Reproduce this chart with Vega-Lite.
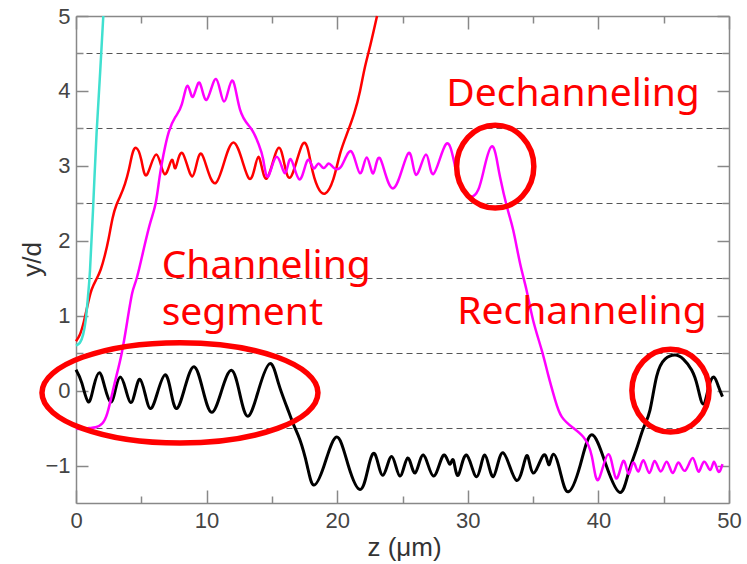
{
  "$schema": "https://vega.github.io/schema/vega-lite/v6.json",
  "width": 653,
  "height": 487,
  "autosize": {"type": "none"},
  "padding": {"left": 76, "top": 16, "right": 18, "bottom": 61},
  "background": "white",
  "config": {
    "view": {"stroke": null},
    "axis": {
      "grid": false,
      "domainColor": "#888888",
      "domainWidth": 1.5,
      "tickColor": "#888888",
      "tickWidth": 1.5,
      "labelFont": "Liberation Sans",
      "labelFontSize": 22,
      "labelColor": "#444444",
      "labelFlush": false,
      "labelOverlap": false,
      "titleFont": "Liberation Sans",
      "titleFontSize": 26,
      "titleFontWeight": "normal",
      "titleColor": "#333333"
    }
  },
  "datasets": {
    "black": [
      {"z":0,"y":0.28},{"z":0.45,"y":0.1},{"z":0.94,"y":-0.15},{"z":1.35,"y":0.05},{"z":1.79,"y":0.24},{"z":2.2,"y":0.05},{"z":2.65,"y":-0.15},{"z":3.0,"y":0.0},{"z":3.37,"y":0.18},{"z":3.8,"y":0.02},{"z":4.19,"y":-0.16},{"z":4.55,"y":0.0},{"z":4.9,"y":0.15},{"z":5.3,"y":-0.05},{"z":5.72,"y":-0.24},{"z":6.25,"y":-0.02},{"z":6.81,"y":0.21},{"z":7.25,"y":0.0},{"z":7.71,"y":-0.24},{"z":8.35,"y":0.05},{"z":9.04,"y":0.32},{"z":9.7,"y":0.02},{"z":10.39,"y":-0.29},{"z":11.15,"y":0.0},{"z":11.92,"y":0.27},{"z":12.55,"y":-0.05},{"z":13.19,"y":-0.34},{"z":14.0,"y":0.02},{"z":14.85,"y":0.36},{"z":15.5,"y":0.1},{"z":16.13,"y":-0.21},{"z":16.65,"y":-0.45},{"z":17.15,"y":-0.66},{"z":17.7,"y":-1.0},{"z":18.2,"y":-1.26},{"z":19.0,"y":-1.0},{"z":19.96,"y":-0.62},{"z":20.85,"y":-1.0},{"z":21.75,"y":-1.32},{"z":22.35,"y":-1.05},{"z":22.9,"y":-0.85},{"z":23.5,"y":-1.13},{"z":24.17,"y":-0.88},{"z":24.8,"y":-1.14},{"z":25.4,"y":-0.9},{"z":25.96,"y":-1.1},{"z":26.6,"y":-0.86},{"z":27.36,"y":-1.14},{"z":28.1,"y":-0.87},{"z":28.6,"y":-0.98},{"z":28.9,"y":-0.93},{"z":29.27,"y":-1.13},{"z":29.9,"y":-0.86},{"z":30.68,"y":-1.15},{"z":31.3,"y":-0.86},{"z":31.95,"y":-1.15},{"z":32.7,"y":-0.83},{"z":33.74,"y":-1.2},{"z":34.5,"y":-0.87},{"z":35.0,"y":-1.1},{"z":35.8,"y":-0.86},{"z":36.2,"y":-0.99},{"z":36.55,"y":-0.85},{"z":37.1,"y":-1.1},{"z":37.7,"y":-1.35},{"z":38.6,"y":-1.0},{"z":39.5,"y":-0.59},{"z":40.6,"y":-1.0},{"z":41.65,"y":-1.36},{"z":42.3,"y":-1.1},{"z":42.9,"y":-0.79},{"z":43.45,"y":-0.5},{"z":43.95,"y":-0.26},{"z":44.46,"y":0.19},{"z":45.1,"y":0.42},{"z":45.87,"y":0.475},{"z":46.5,"y":0.42},{"z":47.14,"y":0.275},{"z":47.6,"y":0.05},{"z":48.03,"y":-0.18},{"z":48.45,"y":0.05},{"z":48.85,"y":0.18},{"z":49.2,"y":0.05},{"z":49.5,"y":-0.08}
    ],
    "magenta": [
      {"z":0,"y":-0.51},{"z":0.5,"y":-0.51},{"z":1.0,"y":-0.5},{"z":1.5,"y":-0.49},{"z":2.0,"y":-0.44},{"z":2.4,"y":-0.3},{"z":2.8,"y":-0.02},{"z":3.1,"y":0.2},{"z":3.5,"y":0.5},{"z":3.9,"y":0.9},{"z":4.3,"y":1.3},{"z":4.65,"y":1.5},{"z":5.2,"y":1.9},{"z":5.7,"y":2.25},{"z":6.1,"y":2.5},{"z":6.4,"y":2.85},{"z":6.7,"y":3.15},{"z":7.1,"y":3.45},{"z":7.6,"y":3.65},{"z":8.1,"y":3.82},{"z":8.55,"y":4.07},{"z":8.95,"y":3.92},{"z":9.45,"y":4.11},{"z":10.0,"y":3.88},{"z":10.72,"y":4.16},{"z":11.33,"y":3.86},{"z":11.95,"y":4.14},{"z":12.56,"y":3.75},{"z":13.4,"y":3.5},{"z":13.96,"y":3.3},{"z":14.34,"y":3.08},{"z":14.72,"y":2.86},{"z":15.37,"y":3.12},{"z":16.0,"y":2.9},{"z":16.44,"y":3.09},{"z":17.1,"y":2.82},{"z":17.71,"y":3.07},{"z":18.17,"y":2.97},{"z":18.55,"y":3.03},{"z":18.94,"y":2.97},{"z":19.32,"y":3.03},{"z":19.7,"y":2.98},{"z":20.34,"y":3.0},{"z":21.1,"y":3.19},{"z":21.75,"y":2.9},{"z":22.26,"y":3.11},{"z":22.76,"y":2.9},{"z":23.28,"y":3.1},{"z":24.3,"y":2.7},{"z":25.45,"y":3.17},{"z":26.03,"y":2.88},{"z":26.8,"y":3.15},{"z":27.36,"y":2.89},{"z":28.33,"y":3.29},{"z":29.02,"y":3.0},{"z":29.6,"y":2.7},{"z":30.17,"y":2.59},{"z":30.8,"y":2.68},{"z":31.3,"y":3.0},{"z":31.83,"y":3.26},{"z":32.2,"y":3.1},{"z":32.47,"y":2.85},{"z":33.0,"y":2.45},{"z":33.48,"y":2.14},{"z":34.0,"y":1.7},{"z":34.5,"y":1.34},{"z":35.0,"y":0.94},{"z":35.66,"y":0.54},{"z":36.17,"y":0.2},{"z":36.68,"y":-0.12},{"z":37.2,"y":-0.35},{"z":38.08,"y":-0.5},{"z":38.85,"y":-0.62},{"z":39.5,"y":-0.88},{"z":40.0,"y":-1.19},{"z":40.76,"y":-0.85},{"z":41.35,"y":-1.17},{"z":41.9,"y":-0.94},{"z":42.3,"y":-1.11},{"z":42.67,"y":-0.96},{"z":43.06,"y":-1.08},{"z":43.44,"y":-0.93},{"z":43.9,"y":-1.1},{"z":44.3,"y":-0.94},{"z":44.77,"y":-1.08},{"z":45.23,"y":-0.95},{"z":45.69,"y":-1.1},{"z":46.12,"y":-0.96},{"z":46.63,"y":-1.07},{"z":47.22,"y":-0.9},{"z":47.65,"y":-1.08},{"z":48.09,"y":-0.95},{"z":48.55,"y":-1.06},{"z":48.85,"y":-0.95},{"z":49.18,"y":-1.08},{"z":49.5,"y":-0.98}
    ],
    "red": [
      {"z":0,"y":0.66},{"z":0.3,"y":0.75},{"z":0.6,"y":0.92},{"z":0.9,"y":1.15},{"z":1.2,"y":1.35},{"z":1.6,"y":1.5},{"z":1.9,"y":1.62},{"z":2.2,"y":1.8},{"z":2.5,"y":2.03},{"z":2.8,"y":2.3},{"z":3.1,"y":2.48},{"z":3.4,"y":2.6},{"z":3.75,"y":2.76},{"z":4.05,"y":2.95},{"z":4.3,"y":3.15},{"z":4.6,"y":3.24},{"z":5.0,"y":3.08},{"z":5.43,"y":2.88},{"z":6.15,"y":3.15},{"z":6.78,"y":2.89},{"z":7.33,"y":3.08},{"z":7.62,"y":2.97},{"z":8.15,"y":3.17},{"z":8.92,"y":2.86},{"z":9.6,"y":3.16},{"z":10.7,"y":2.77},{"z":12.02,"y":3.31},{"z":13.25,"y":2.83},{"z":13.96,"y":3.12},{"z":14.6,"y":2.83},{"z":15.55,"y":3.24},{"z":16.33,"y":2.84},{"z":17.35,"y":3.29},{"z":18.0,"y":3.02},{"z":18.5,"y":2.72},{"z":19.07,"y":2.63},{"z":19.7,"y":2.82},{"z":20.2,"y":3.15},{"z":20.73,"y":3.42},{"z":21.3,"y":3.7},{"z":21.75,"y":4.0},{"z":22.1,"y":4.3},{"z":22.55,"y":4.62},{"z":23.05,"y":5.0}
    ],
    "cyan": [
      {"z":0,"y":0.6},{"z":0.3,"y":0.64},{"z":0.55,"y":0.75},{"z":0.75,"y":0.95},{"z":0.9,"y":1.22},{"z":1.07,"y":1.6},{"z":1.3,"y":2.4},{"z":1.58,"y":3.45},{"z":1.85,"y":4.25},{"z":2.09,"y":5.0}
    ],
    "ellipse": [{"z":7.96,"y":-0.03}],
    "circles": [{"z":32.1,"y":2.99},{"z":45.52,"y":0.0}],
    "labels": [
      {"z":38.06,"y":3.8,"label":"Dechanneling"},
      {"z":38.74,"y":0.885,"label":"Rechanneling"}
    ],
    "labels2": [
      {"z":6.56,"y":1.503,"label":"Channeling\nsegment"}
    ]
  },
  "resolve": {"axis": {"x": "independent", "y": "independent"}},
  "layer": [
    {
      "data": {"name": "black"},
      "mark": {"type": "line", "color": "#000000", "strokeWidth": 3, "interpolate": "natural"},
      "encoding": {
        "x": {"field": "z", "type": "quantitative", "scale": {"domain": [0, 50], "nice": false, "zero": false},
          "axis": {"orient": "bottom", "values": [0, 10, 20, 30, 40, 50], "tickSize": -13, "labelPadding": 20, "domain": true,
            "title": "z (μm)", "titleX": 328, "titleY": 52, "titleBaseline": "alphabetic", "titleAlign": "center"}},
        "y": {"field": "y", "type": "quantitative", "scale": {"domain": [-1.5, 5], "nice": false, "zero": false},
          "axis": {"orient": "left", "values": [-1, 0, 1, 2, 3, 4, 5], "tickSize": -12, "labelPadding": 18, "domain": true,
            "title": "y/d", "titleX": -36, "titleY": 243, "titleAngle": -90, "titleBaseline": "alphabetic", "titleAlign": "center"}}
      }
    },
    {
      "data": {"name": "red"},
      "mark": {"type": "line", "color": "#ff0000", "strokeWidth": 2.5, "interpolate": "natural"},
      "encoding": {
        "x": {"field": "z", "type": "quantitative", "scale": {"domain": [0, 50], "nice": false, "zero": false},
          "axis": {"orient": "bottom", "values": [5, 15, 25, 35, 45], "tickSize": -7, "labels": false, "domain": false, "title": null}},
        "y": {"field": "y", "type": "quantitative", "scale": {"domain": [-1.5, 5], "nice": false, "zero": false},
          "axis": {"orient": "left", "values": [-0.5, 0.5, 1.5, 2.5, 3.5, 4.5], "tickSize": -7, "labels": false, "domain": false, "title": null,
            "grid": true, "gridDash": [6, 4], "gridColor": "#555555", "gridWidth": 1.2}}
      }
    },
    {
      "data": {"name": "magenta"},
      "mark": {"type": "line", "color": "#ff00ff", "strokeWidth": 2.5, "interpolate": "natural"},
      "encoding": {
        "x": {"field": "z", "type": "quantitative", "scale": {"domain": [0, 50], "nice": false, "zero": false},
          "axis": {"orient": "top", "values": [0, 10, 20, 30, 40, 50], "tickSize": -13, "labels": false, "domain": true, "title": null}},
        "y": {"field": "y", "type": "quantitative", "scale": {"domain": [-1.5, 5], "nice": false, "zero": false},
          "axis": {"orient": "right", "values": [-1, 0, 1, 2, 3, 4, 5], "tickSize": -12, "labels": false, "domain": true, "title": null}}
      }
    },
    {
      "data": {"name": "cyan"},
      "mark": {"type": "line", "color": "#40e0d0", "strokeWidth": 2.5, "interpolate": "natural"},
      "encoding": {
        "x": {"field": "z", "type": "quantitative", "scale": {"domain": [0, 50], "nice": false, "zero": false},
          "axis": {"orient": "top", "values": [5, 15, 25, 35, 45], "tickSize": -7, "labels": false, "domain": false, "title": null}},
        "y": {"field": "y", "type": "quantitative", "scale": {"domain": [-1.5, 5], "nice": false, "zero": false},
          "axis": {"orient": "right", "values": [-0.5, 0.5, 1.5, 2.5, 3.5, 4.5], "tickSize": -7, "labels": false, "domain": false, "title": null}}
      }
    },
    {
      "data": {"name": "ellipse"},
      "mark": {"type": "point", "shape": "M-1,0C-1,-0.2021,-0.5523,-0.364,0,-0.364C0.5523,-0.364,1,-0.2021,1,0C1,0.2021,0.5523,0.364,0,0.364C-0.5523,0.364,-1,0.2021,-1,0Z",
        "size": 76176, "filled": false, "stroke": "#ff0000", "strokeWidth": 5.5, "opacity": 1},
      "encoding": {
        "x": {"field": "z", "type": "quantitative", "scale": {"domain": [0, 50], "nice": false, "zero": false}, "axis": null},
        "y": {"field": "y", "type": "quantitative", "scale": {"domain": [-1.5, 5], "nice": false, "zero": false}, "axis": null}
      }
    },
    {
      "data": {"name": "circles"},
      "mark": {"type": "point", "shape": "M-1,0C-1,-0.5926,-0.5523,-1.073,0,-1.073C0.5523,-1.073,1,-0.5926,1,0C1,0.5926,0.5523,1.073,0,1.073C-0.5523,1.073,-1,0.5926,-1,0Z",
        "size": 5960, "filled": false, "stroke": "#ff0000", "strokeWidth": 5.5, "opacity": 1},
      "encoding": {
        "x": {"field": "z", "type": "quantitative", "scale": {"domain": [0, 50], "nice": false, "zero": false}, "axis": null},
        "y": {"field": "y", "type": "quantitative", "scale": {"domain": [-1.5, 5], "nice": false, "zero": false}, "axis": null}
      }
    },
    {
      "data": {"name": "labels"},
      "mark": {"type": "text", "align": "center", "baseline": "alphabetic", "font": "Noto Sans", "fontSize": 39, "color": "#ff0000"},
      "encoding": {
        "x": {"field": "z", "type": "quantitative", "scale": {"domain": [0, 50], "nice": false, "zero": false}, "axis": null},
        "y": {"field": "y", "type": "quantitative", "scale": {"domain": [-1.5, 5], "nice": false, "zero": false}, "axis": null},
        "text": {"field": "label", "type": "nominal"}
      }
    },
    {
      "data": {"name": "labels2"},
      "mark": {"type": "text", "align": "left", "baseline": "alphabetic", "font": "Noto Sans", "fontSize": 39, "color": "#ff0000", "lineBreak": "\n", "lineHeight": 47},
      "encoding": {
        "x": {"field": "z", "type": "quantitative", "scale": {"domain": [0, 50], "nice": false, "zero": false}, "axis": null},
        "y": {"field": "y", "type": "quantitative", "scale": {"domain": [-1.5, 5], "nice": false, "zero": false}, "axis": null},
        "text": {"field": "label", "type": "nominal"}
      }
    }
  ]
}
